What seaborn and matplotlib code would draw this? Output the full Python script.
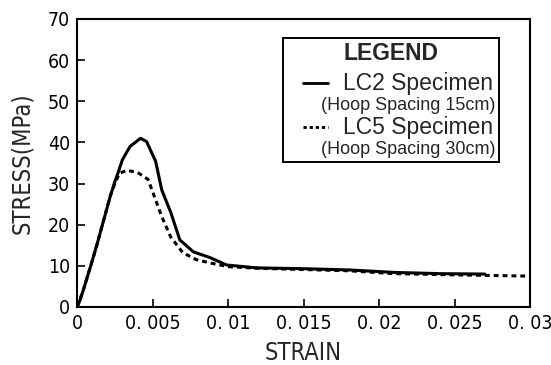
import matplotlib
matplotlib.use("Agg")
import matplotlib.pyplot as plt
from matplotlib.lines import Line2D
from matplotlib.offsetbox import (AnchoredOffsetbox, DrawingArea, HPacker,
                                  TextArea, VPacker)
import seaborn as sns
import pandas as pd

# LC2 specimen (hoop spacing 15cm)
lc2_strain = [0, 0.0002, 0.0004, 0.0009, 0.0013, 0.0016, 0.0019, 0.0022, 0.0025,
              0.0027, 0.003, 0.0035, 0.0042, 0.0046, 0.0052, 0.0056, 0.0062,
              0.0068, 0.0077, 0.0088, 0.0099, 0.0119, 0.015, 0.018, 0.021,
              0.024, 0.027]
lc2_stress = [0, 1.7, 4, 10, 15, 19, 23, 27, 30.5, 32.5, 35.8, 39, 41, 40.2,
              35.4, 28.5, 23, 16.3, 13.4, 12, 10.2, 9.5, 9.3, 9.0, 8.4, 8.1, 8.0]

# LC5 specimen (hoop spacing 30cm)
lc5_strain = [0, 0.0004, 0.0009, 0.0013, 0.0016, 0.0019, 0.0022, 0.0025, 0.0028,
              0.0033, 0.004, 0.0047, 0.0052, 0.0056, 0.0062, 0.007, 0.0079,
              0.0088, 0.010, 0.012, 0.015, 0.018, 0.021, 0.025, 0.03]
lc5_stress = [0, 4, 10, 15, 19, 23, 27, 30, 32.5, 33.2, 32.7, 31, 26, 22, 17,
              13.2, 11.5, 10.7, 9.8, 9.4, 9.1, 8.8, 8.1, 7.8, 7.5]

x_ticks = [0, 0.005, 0.01, 0.015, 0.02, 0.025, 0.03]
x_tick_labels = ["0", "0. 005", "0. 01", "0. 015", "0. 02", "0. 025", "0. 03"]
y_ticks = [0, 10, 20, 30, 40, 50, 60, 70]

sns.set_style("ticks")
plt.rcParams['font.family'] = ['DejaVu Sans']
plt.rcParams['font.stretch'] = 'condensed'

lc2 = pd.DataFrame({"strain": lc2_strain, "stress": lc2_stress})
lc5 = pd.DataFrame({"strain": lc5_strain, "stress": lc5_stress})

fig = plt.figure(figsize=(5.51, 3.65), dpi=100)
ax = fig.add_axes([0.14, 0.159, 0.822, 0.789])

sns.lineplot(data=lc5, x="strain", y="stress", ax=ax, color="black",
             linewidth=2.2, linestyle=(0, (1.6, 1.3)), sort=False)
sns.lineplot(data=lc2, x="strain", y="stress", ax=ax, color="black",
             linewidth=2.2, sort=False)

ax.set_xlim(0, 0.03)
ax.set_ylim(0, 70)
ax.set_xticks(x_ticks)
ax.set_xticklabels(x_tick_labels)
ax.set_yticks(y_ticks)
ax.tick_params(direction="in", length=6, width=1.2, labelsize=14, colors="black",
               pad=5)
for s in ax.spines.values():
    s.set_linewidth(1.5)
    s.set_color("black")

ax.set_xlabel("STRAIN", fontsize=17, labelpad=6)
ax.set_ylabel("STRESS(MPa)", fontsize=17, labelpad=10)

# legend box built from offsetboxes
main_font = {"family": "Liberation Sans", "size": 16.5, "stretch": "normal"}
sub_font = {"family": "Liberation Sans", "size": 13, "stretch": "normal"}
title_font = {"family": "Liberation Sans", "size": 16.5, "weight": "bold",
              "stretch": "normal"}


def handle_box(style):
    da = DrawingArea(18, 12, 0, 0)
    da.add_artist(Line2D([0, 18], [6, 6], color="black", linewidth=2.0,
                         linestyle=style))
    return da


def entry(style, label, sub):
    top = HPacker(children=[handle_box(style), TextArea(label, textprops=main_font)],
                  align="center", pad=0, sep=11)
    bottom = HPacker(children=[DrawingArea(13, 2, 0, 0),
                               TextArea(sub, textprops=sub_font)],
                     align="center", pad=0, sep=0)
    return [top, bottom]


rows = (entry("-", "LC2 Specimen", "(Hoop Spacing 15cm)")
        + entry((0, (1.2, 1.0)), "LC5 Specimen", "(Hoop Spacing 30cm)"))
body = VPacker(children=rows, align="left", pad=0, sep=1.5)
body = HPacker(children=[DrawingArea(11, 1, 0, 0), body], align="top", pad=0, sep=0)
box = VPacker(children=[TextArea("LEGEND", textprops=title_font), body],
              align="center", pad=0, sep=5)
anchored = AnchoredOffsetbox(loc="upper right", child=box, pad=0.3, borderpad=0,
                             frameon=True, bbox_to_anchor=(0.932, 0.935),
                             bbox_transform=ax.transAxes)
anchored.patch.set_edgecolor("black")
anchored.patch.set_linewidth(1.4)
anchored.patch.set_boxstyle("square", pad=0)
ax.add_artist(anchored)

fig.savefig("out.png", dpi=100)
